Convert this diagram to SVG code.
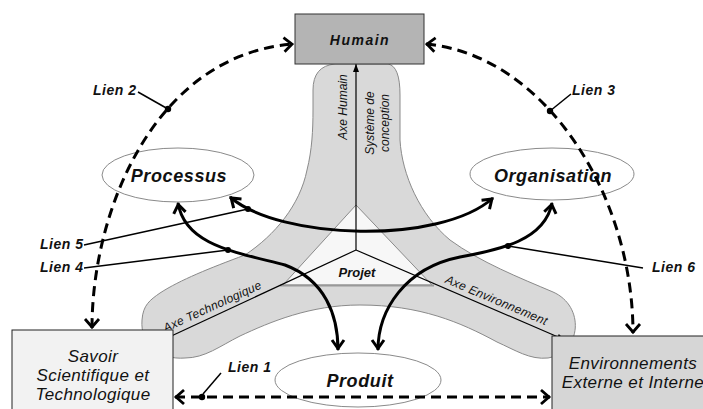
<svg xmlns="http://www.w3.org/2000/svg" width="703" height="409" viewBox="0 0 703 409">
  <style>
    .lbl { font-family: "Liberation Sans", Arial, sans-serif; font-style: italic; }
    .b { font-weight: bold; }
    .node-title { font-size: 18px; font-weight: bold; letter-spacing: 0.6px; fill: #111; }
    .box-text { font-size: 17px; letter-spacing: 0.4px; fill: #111; }
    .lien { font-size: 14px; font-weight: bold; letter-spacing: 0.5px; fill: #111; }
    .axe { font-size: 12px; fill: #111; }
    .ell { fill: #ffffff; stroke: #8a8a8a; stroke-width: 1; }
    .dash { fill: none; stroke: #000; stroke-width: 3; stroke-dasharray: 10 6; }
    .thick { fill: none; stroke: #000; stroke-width: 3; }
    .leader { fill: none; stroke: #000; stroke-width: 1.5; }
    .axis { fill: none; stroke: #000; stroke-width: 1.2; }
  </style>
  <defs>
    <marker id="arrC" markerUnits="userSpaceOnUse" viewBox="-14 -9 16 18" refX="0" refY="0" markerWidth="16" markerHeight="18" orient="auto-start-reverse" overflow="visible">
      <path d="M-10,-6 L-1.5,0 L-10,6" fill="none" stroke="#000" stroke-width="3"/>
    </marker>
    <marker id="arrD" markerUnits="userSpaceOnUse" viewBox="-12 -9 14 18" refX="0" refY="0" markerWidth="14" markerHeight="18" orient="auto-start-reverse" overflow="visible">
      <path d="M-9,-7 L-1,0 L-9,7" fill="none" stroke="#000" stroke-width="2.8"/>
    </marker>
    <marker id="arrA" markerUnits="userSpaceOnUse" viewBox="-9 -4 10 8" refX="0" refY="0" markerWidth="10" markerHeight="8" orient="auto" overflow="visible">
      <path d="M0,0 L-8,-3 L-8,3 Z" fill="#000"/>
    </marker>
  </defs>

  <!-- Y-shaped band: the three axes of the design system -->
  <g id="axes-band">
    <path d="M 335,64 L 388,64 Q 400,66 400,95 L 400,140 C 402,175 420,215 450,240 C 480,262 520,278 553,292 C 585,306 582,352 548,358 C 530,360 515,350 497,342 C 460,322 420,305 360,305 C 310,305 270,322 240,336 C 220,346 205,358 185,358 C 160,360 140,345 142,320 C 143,305 150,300 160,293 C 180,280 210,268 245,255 C 275,235 300,205 307,170 C 312,150 313,130 313,110 L 313,90 Q 313,66 335,64 Z" fill="#d9d9d9" stroke="#8a8a8a" stroke-width="1"/>
  </g>

  <!-- Projet triangle at the centre -->
  <g id="projet">
    <polygon points="356,205 283,285 432,285" fill="#f7f7f7" stroke="#8a8a8a" stroke-width="1"/>
    <line x1="280" y1="285.5" x2="434" y2="285.5" stroke="#999" stroke-width="2"/>
    <text class="lbl b" x="357" y="277" font-size="13" text-anchor="middle" fill="#111">Projet</text>
  </g>

  <!-- Axis lines from the centre -->
  <g id="axis-lines">
    <line class="axis" x1="356" y1="250" x2="356" y2="64" marker-end="url(#arrA)"/>
    <line class="axis" x1="356" y1="250" x2="152" y2="345" marker-end="url(#arrA)"/>
    <line class="axis" x1="356" y1="250" x2="565" y2="340" marker-end="url(#arrA)"/>
    <text class="lbl axe" transform="translate(347,107) rotate(-90)" text-anchor="middle">Axe Humain</text>
    <text class="lbl axe" transform="translate(374,123) rotate(-90)" text-anchor="middle">Système de</text>
    <text class="lbl axe" transform="translate(389,123) rotate(-90)" text-anchor="middle">conception</text>
    <text class="lbl axe" font-size="13.5" letter-spacing="0.3" transform="translate(214,310) rotate(-24.5)" text-anchor="middle">Axe Technologique</text>
    <text class="lbl axe" font-size="13.5" letter-spacing="0.3" transform="translate(495,304) rotate(23)" text-anchor="middle">Axe Environnement</text>
  </g>

  <!-- Nodes -->
  <g id="humain">
    <rect x="295" y="14" width="129" height="50" fill="#b4b4b4" stroke="#333" stroke-width="1"/>
    <text class="lbl b" x="360" y="45" font-size="14" letter-spacing="1.5" text-anchor="middle" fill="#111">Humain</text>
  </g>
  <g id="processus">
    <ellipse class="ell" cx="178" cy="175" rx="76" ry="27"/>
    <text class="lbl node-title" x="179" y="182" text-anchor="middle">Processus</text>
  </g>
  <g id="organisation">
    <ellipse class="ell" cx="552" cy="174" rx="82" ry="26"/>
    <text class="lbl node-title" x="553" y="182" text-anchor="middle">Organisation</text>
  </g>
  <g id="produit">
    <ellipse class="ell" cx="358" cy="380" rx="83" ry="27"/>
    <text class="lbl node-title" x="360" y="387" text-anchor="middle" letter-spacing="0.2">Produit</text>
  </g>
  <g id="savoir">
    <rect x="12" y="330" width="161" height="90" fill="#f2f2f2" stroke="#222" stroke-width="1"/>
    <text class="lbl box-text" x="93" y="362" text-anchor="middle">Savoir</text>
    <text class="lbl box-text" x="93" y="381" text-anchor="middle">Scientifique et</text>
    <text class="lbl box-text" x="93" y="400" text-anchor="middle">Technologique</text>
  </g>
  <g id="environnements">
    <rect x="552" y="336" width="162" height="84" fill="#d6d6d6" stroke="#222" stroke-width="1"/>
    <text class="lbl box-text" x="633" y="369" text-anchor="middle">Environnements</text>
    <text class="lbl box-text" x="633" y="388" text-anchor="middle">Externe et Interne</text>
  </g>

  <!-- Connectors -->
  <g id="connectors">
    <!-- Lien 2 and Lien 3: dashed arcs to Humain -->
    <path class="dash" d="M 92,328 C 92,210 155,55 293,44" marker-start="url(#arrD)" marker-end="url(#arrD)"/>
    <path class="dash" d="M 426,44 C 545,55 633,195 633,333" marker-start="url(#arrD)" marker-end="url(#arrD)"/>
    <!-- Lien 1: dashed line between the two boxes -->
    <path class="dash" d="M 175,397 L 550,397" marker-start="url(#arrD)" marker-end="url(#arrD)"/>

    <!-- Lien 5, Lien 4, Lien 6: thick curved links -->
    <path class="thick" d="M 230,197 C 280,240 440,245 493,198" marker-start="url(#arrC)" marker-end="url(#arrC)"/>
    <path class="thick" d="M 178,203 C 185,245 235,252 285,265 C 325,280 338,315 338,350" marker-start="url(#arrC)" marker-end="url(#arrC)"/>
    <path class="thick" d="M 552,203 C 545,240 500,250 460,257 C 405,268 378,310 378,350" marker-start="url(#arrC)" marker-end="url(#arrC)"/>

    <!-- label leaders and anchor dots -->
    <line class="leader" x1="138" y1="92" x2="168" y2="109"/>
    <circle cx="168" cy="109" r="3.2"/>
    <line class="leader" x1="571" y1="94" x2="550" y2="111"/>
    <circle cx="550" cy="111" r="3.2"/>
    <line class="leader" x1="84" y1="245" x2="248" y2="209"/>
    <circle cx="248" cy="209" r="3"/>
    <line class="leader" x1="84" y1="268" x2="228" y2="250"/>
    <circle cx="228" cy="250" r="3"/>
    <line class="leader" x1="643" y1="268" x2="508" y2="246"/>
    <circle cx="508" cy="246" r="3"/>
    <line class="leader" x1="221" y1="373" x2="203" y2="394"/>
    <circle cx="202" cy="397" r="3.2"/>
  </g>

  <!-- Link labels -->
  <g id="link-labels">
    <text class="lbl lien" x="93" y="95">Lien 2</text>
    <text class="lbl lien" x="572" y="95">Lien 3</text>
    <text class="lbl lien" x="40" y="249">Lien 5</text>
    <text class="lbl lien" x="40" y="272">Lien 4</text>
    <text class="lbl lien" x="652" y="272">Lien 6</text>
    <text class="lbl lien" x="228" y="372">Lien 1</text>
  </g>
</svg>
